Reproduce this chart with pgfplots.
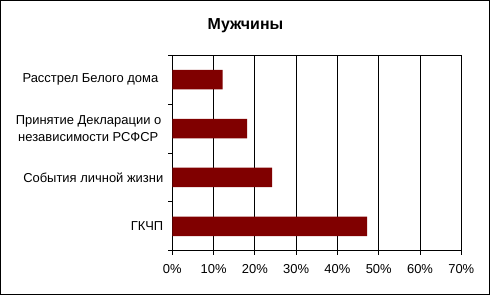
\documentclass[border=0pt]{standalone}
\usepackage{fontspec}
\setmainfont{Liberation Sans}
\usepackage{pgfplots}
\pgfplotsset{compat=1.18}
\definecolor{barred}{HTML}{800000}
\begin{document}
\begin{tikzpicture}
\useasboundingbox (0bp,0bp) rectangle (491bp,-296bp);
\draw[line width=1bp] (0.5bp,-0.5bp) rectangle (489.5bp,-294.5bp);
\node[font=\bfseries\fontsize{16}{19}\selectfont] at (245.5bp,-25.5bp) {Мужчины};
\begin{axis}[
 at={(172.3bp,-250.7bp)}, anchor=south west, scale only axis,
 width=289bp, height=195.4bp,
 xbar, bar width=19.5bp,
 xmin=0, xmax=70, ymin=-0.5, ymax=3.5,
 xtick={0,10,...,70},
 xticklabels={0\%,10\%,20\%,30\%,40\%,50\%,60\%,70\%},
 ytick={-0.5,0.5,1.5,2.5,3.5},
 y tick label as interval,
 yticklabels={ГКЧП,События личной жизни,{Принятие Декларации о\hspace*{2bp}\\независимости РСФСР\hspace*{5bp}},Расстрел Белого дома\hspace*{5bp},{}},
 xtick pos=bottom, ytick pos=left,
 tick align=outside, major tick length=4bp,
 xmajorgrids, major grid style={black, line width=0.8bp},
 axis line style={black, line width=0.8bp},
 tick style={black, line width=0.8bp},
 /pgf/number format/assume math mode=true,
 ticklabel style={font=\fontsize{13}{16.5}\selectfont},
 yticklabel style={align=right, xshift=-1.5bp},
 xticklabel style={yshift=-6bp},
]
\addplot[fill=barred, draw=none] coordinates {(47.2,0) (24.2,1) (18.1,2) (12.2,3)};
\end{axis}
\end{tikzpicture}
\end{document}
